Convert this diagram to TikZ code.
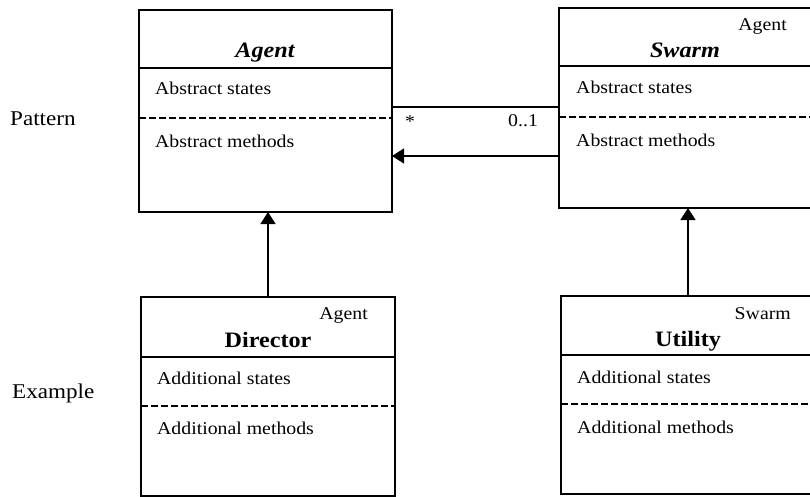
\documentclass[tikz,border=0pt]{standalone}
\usepackage{fontspec}
\setmainfont[FakeStretch=1.1]{Liberation Serif}
\usetikzlibrary{arrows.meta,calc}

\tikzset{
  classbox/.style={draw, line width=1.4bp, rectangle, outer sep=0pt, inner sep=0pt, anchor=north west},
  sepline/.style={line width=1.2bp},
  sepdash/.style={line width=1.2bp, dash pattern=on 7bp off 3bp},
  bodytext/.style={inner sep=0pt, anchor=base west, font=\fontsize{18bp}{21bp}\selectfont},
  stereo/.style={inner sep=0pt, anchor=base east, font=\fontsize{18bp}{21bp}\selectfont},
  abstitle/.style={inner sep=0pt, anchor=base, font=\fontsize{22bp}{26bp}\selectfont\bfseries\itshape},
  contitle/.style={inner sep=0pt, anchor=base, font=\fontsize{22bp}{26bp}\selectfont\bfseries},
  rowlabel/.style={inner sep=0pt, anchor=base west, font=\fontsize{21bp}{25bp}\selectfont},
  mult/.style={inner sep=0pt, font=\fontsize{18bp}{21bp}\selectfont},
  link/.style={line width=1.4bp},
  inherit/.style={line width=1.4bp, -{Triangle[length=12bp,width=15bp]}},
}

\begin{document}
\begin{tikzpicture}[x=1bp, y=-1bp]
\useasboundingbox (0,0) rectangle (810,497);
\clip (0,0) rectangle (810,497);

% row labels
\node[rowlabel] (lpattern) at (10,126) {Pattern};
\node[rowlabel] (lexample) at (12,398) {Example};

% abstract class Agent
\node[classbox, minimum width=253bp, minimum height=202bp] (agent) at (139,10) {};
\draw[sepline] (agent.west |- 0,68) -- (agent.east |- 0,68);
\draw[sepdash] (agent.west |- 0,118) -- (agent.east |- 0,118);
\node[abstitle] (agentname) at (265,58) {Agent};
\node[bodytext] (agentst) at (155,95) {Abstract states};
\node[bodytext] (agentme) at (155,148) {Abstract methods};

% abstract class Swarm (continues past the right edge)
\node[classbox, minimum width=256bp, minimum height=200bp] (swarm) at (559,8) {};
\draw[sepline] (swarm.west |- 0,66) -- (swarm.east |- 0,66);
\draw[sepdash] (swarm.west |- 0,117) -- (swarm.east |- 0,117);
\node[stereo] (swarmst) at (787,31) {Agent};
\node[abstitle] (swarmname) at (685,58) {Swarm};
\node[bodytext] (swarmas) at (576,94) {Abstract states};
\node[bodytext] (swarmam) at (576,147) {Abstract methods};

% concrete class Director
\node[classbox, minimum width=254bp, minimum height=199bp] (director) at (141,297) {};
\draw[sepline] (director.west |- 0,357) -- (director.east |- 0,357);
\draw[sepdash] (director.west |- 0,406) -- (director.east |- 0,406);
\node[stereo] (directorst) at (368,320) {Agent};
\node[contitle] (directorname) at (268,347) {Director};
\node[bodytext] (directoras) at (157,384) {Additional states};
\node[bodytext] (directoram) at (157,434) {Additional methods};

% concrete class Utility (continues past the right edge)
\node[classbox, minimum width=254bp, minimum height=198bp] (utility) at (561,296) {};
\draw[sepline] (utility.west |- 0,355) -- (utility.east |- 0,355);
\draw[sepdash] (utility.west |- 0,404) -- (utility.east |- 0,404);
\node[stereo] (utilityst) at (791,320) {Swarm};
\node[contitle] (utilityname) at (688,346) {Utility};
\node[bodytext] (utilityas) at (577,383) {Additional states};
\node[bodytext] (utilityam) at (577,433) {Additional methods};

% association between Agent and Swarm
\coordinate (assoc) at (0,107);
\coordinate (nav) at (0,156);
\draw[link] (agent.east |- assoc) -- (swarm.west |- assoc);
\node[mult] (manyend) at (410,122) {*};
\node[mult, anchor=base west] (oneend) at (508,127) {0..1};
\draw[inherit] (swarm.west |- nav) -- (agent.east |- nav);

% generalisation arrows
\draw[inherit] (director.north) -- (director.north |- agent.south);
\draw[inherit] (utility.north) -- (utility.north |- swarm.south);
\end{tikzpicture}
\end{document}
